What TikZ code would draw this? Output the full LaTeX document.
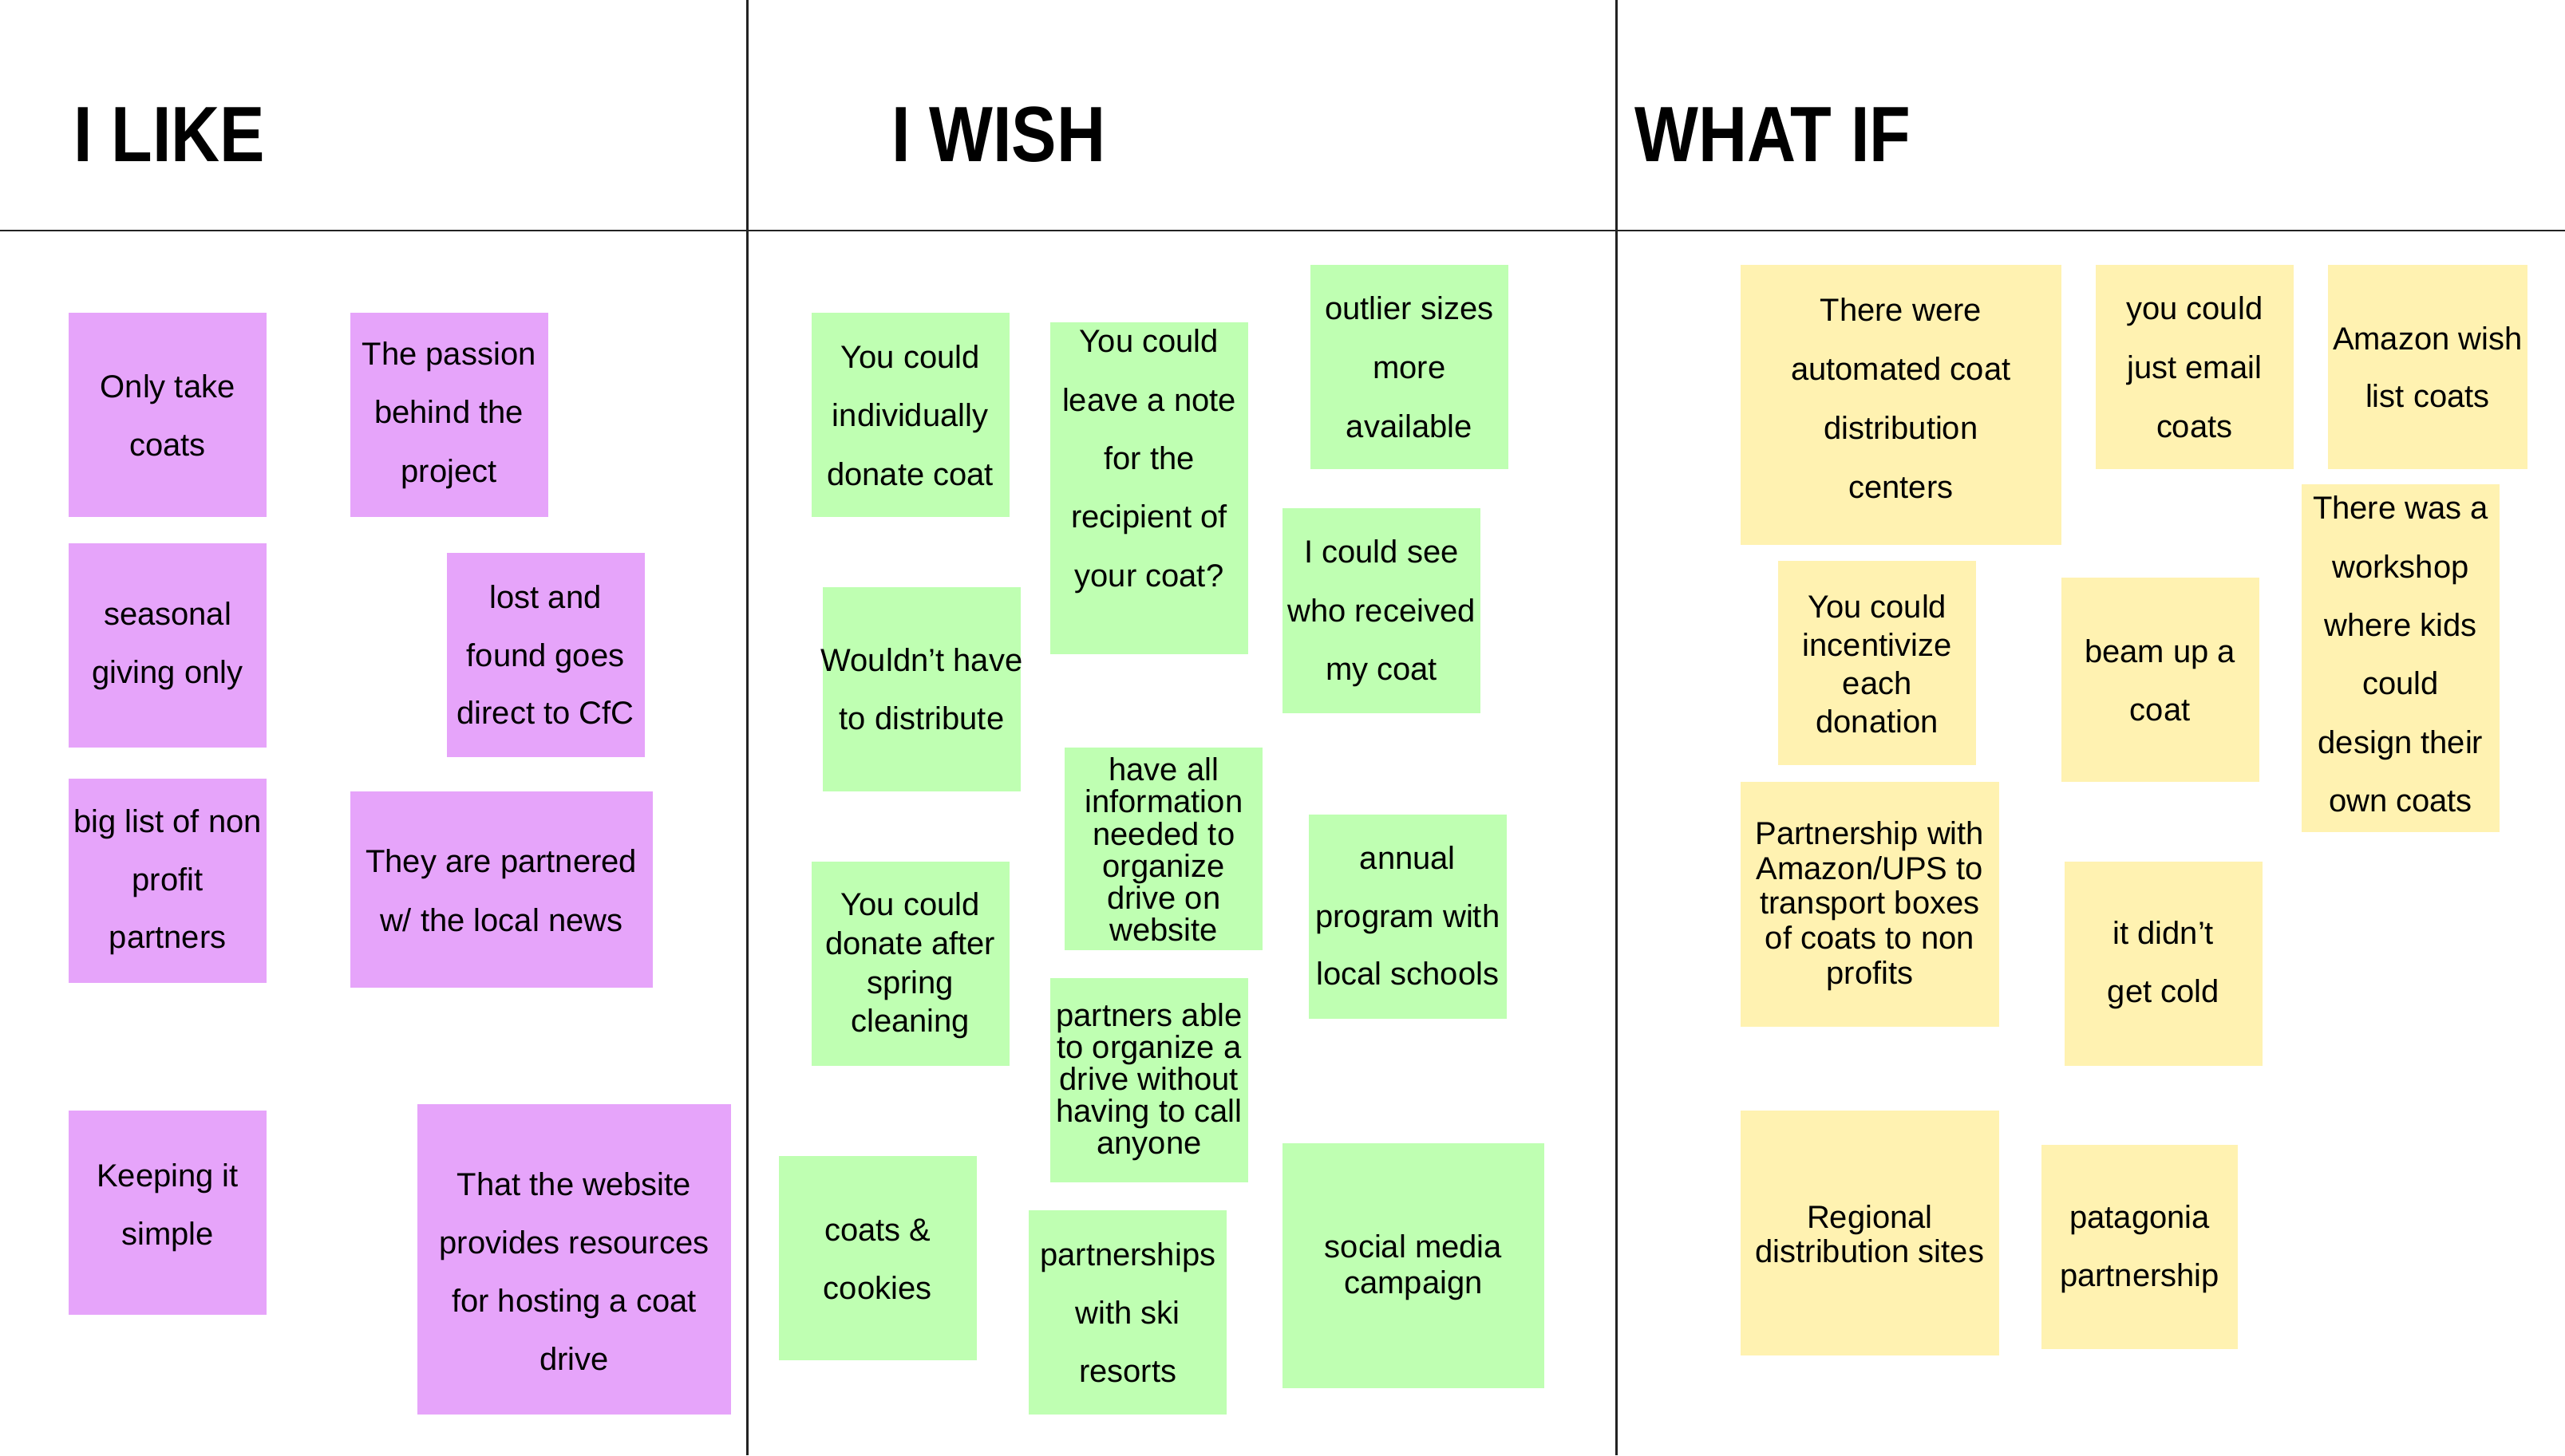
\documentclass[tikz,border=0pt]{standalone}
\usepackage{fontspec}
\setmainfont{Liberation Sans}
\newfontfamily\headfont[FakeStretch=0.86]{Liberation Sans Bold}
\definecolor{notepink}{HTML}{E6A4FA}
\definecolor{notegreen}{HTML}{BFFFB2}
\definecolor{noteyellow}{HTML}{FFF2B1}
\definecolor{gridcol}{HTML}{222222}
\tikzset{
  notebox/.style={rectangle, draw=none, inner sep=0pt, outer sep=0pt},
  notetext/.style={align=center, inner sep=0pt, outer sep=0pt, text=black},
  headtext/.style={anchor=base west, inner sep=0pt, font={\headfont\fontsize{48}{56}\selectfont}, text=black},
  gridline/.style={draw=gridcol, line width=1.4pt}
}
% #1 name, #2 colour, #3 x1, #4 y1, #5 x2, #6 y2, #7 text centre y, #8 line spacing, #9 text
\newcommand{\sticky}[9]{%
  \node[notebox, fill=#2, minimum width={(#5)-(#3)}, minimum height={(#6)-(#4)}] (#1) at ({((#3)+(#5))/2},{((#4)+(#6))/2}) {};
  \node[notetext, font={\fontsize{19.5}{#8}\selectfont}] (#1-t) at ({((#3)+(#5))/2},#7) {#9};}
\begin{document}
\begin{tikzpicture}[x=1pt, y=-1pt]
\useasboundingbox (0,0) rectangle (1568,889.9);
\fill[white] (0,0) rectangle (1568,889.9);

% grid lines
\coordinate (v1t) at (457,0);
\coordinate (v1b) at (457,889.9);
\coordinate (v2t) at (988,0);
\coordinate (v2b) at (988,889.9);
\coordinate (hl) at (0,141);
\coordinate (hr) at (1568,141);
\draw[gridline] (v1t) -- (v1b);
\draw[gridline] (v2t) -- (v2b);
\draw[gridline] (hl) -- (hr);

% headers
\node[headtext] (h1) at (45,99) {I LIKE};
\node[headtext] (h2) at (545,99) {I WISH};
\node[headtext] (h3) at (999,99) {WHAT IF};

% I LIKE
\sticky{p1}{notepink}{42}{191}{163}{316}{254}{35.5}{Only take\\coats}
\sticky{p2}{notepink}{214}{191}{335}{316}{254}{36}{The passion\\behind the\\project}
\sticky{p3}{notepink}{42}{332}{163}{457}{395}{35.5}{seasonal\\giving only}
\sticky{p4}{notepink}{273}{338}{394}{463}{400.5}{35.5}{lost and\\found goes\\direct to CfC}
\sticky{p5}{notepink}{42}{476}{163}{601}{539.5}{35.5}{big list of non\\profit\\partners}
\sticky{p6}{notepink}{214}{484}{399}{604}{544.5}{36}{They are partnered\\w/ the local news}
\sticky{p7}{notepink}{42}{679}{163}{804}{738.5}{35.5}{Keeping it\\simple}
\sticky{p8}{notepink}{255}{675}{447}{865}{777.5}{35.7}{That the website\\provides resources\\for hosting a coat\\drive}

% I WISH
\sticky{g1}{notegreen}{496}{191}{617}{316}{254}{36}{You could\\individually\\donate coat}
\sticky{g2}{notegreen}{642}{197}{763}{400}{282}{35.8}{You could\\leave a note\\for the\\recipient of\\your coat?}
\sticky{g3}{notegreen}{801}{162}{922}{287}{224.5}{36}{outlier sizes\\more\\available}
\sticky{g4}{notegreen}{503}{359}{624}{484}{421.5}{35.5}{Wouldn’t have\\to distribute}
\sticky{g5}{notegreen}{784}{311}{905}{436}{375}{36}{I could see\\who received\\my coat}
\sticky{g6}{notegreen}{651}{457}{772}{581}{519.5}{19.6}{have all\\information\\needed to\\organize\\drive on\\website}
\sticky{g7}{notegreen}{800}{498}{921}{623}{560}{35.5}{annual\\program with\\local schools}
\sticky{g8}{notegreen}{496}{527}{617}{652}{590.5}{23.7}{You could\\donate after\\spring\\cleaning}
\sticky{g9}{notegreen}{642}{598}{763}{723}{661.5}{19.5}{partners able\\to organize a\\drive without\\having to call\\anyone}
\sticky{g10}{notegreen}{476}{707}{597}{832}{770}{35.5}{coats \&\\cookies}
\sticky{g11}{notegreen}{629}{740}{750}{865}{802.5}{35.5}{partnerships\\with ski\\resorts}
\sticky{g12}{notegreen}{784}{699}{944}{849}{775}{22}{social media\\campaign}

% WHAT IF
\sticky{y1}{noteyellow}{1064}{162}{1260}{333}{243.5}{36}{There were\\automated coat\\distribution\\centers}
\sticky{y2}{noteyellow}{1281}{162}{1402}{287}{224.5}{36}{you could\\just email\\coats}
\sticky{y3}{noteyellow}{1423}{162}{1545}{287}{224.5}{35.5}{Amazon wish\\list coats}
\sticky{y4}{noteyellow}{1407}{296}{1528}{509}{400}{35.8}{There was a\\workshop\\where kids\\could\\design their\\own coats}
\sticky{y5}{noteyellow}{1087}{343}{1208}{468}{406}{23.3}{You could\\incentivize\\each\\donation}
\sticky{y6}{noteyellow}{1260}{353}{1381}{478}{416}{35.5}{beam up a\\coat}
\sticky{y7}{noteyellow}{1064}{478}{1222}{628}{554}{21.3}{Partnership with\\Amazon/UPS to\\transport boxes\\of coats to non\\profits}
\sticky{y8}{noteyellow}{1262}{527}{1383}{652}{590}{35.5}{it didn’t\\get cold}
\sticky{y9}{noteyellow}{1064}{679}{1222}{829}{754.5}{21}{Regional\\distribution sites}
\sticky{y10}{noteyellow}{1248}{700}{1368}{825}{764}{35.5}{patagonia\\partnership}
\end{tikzpicture}
\end{document}
